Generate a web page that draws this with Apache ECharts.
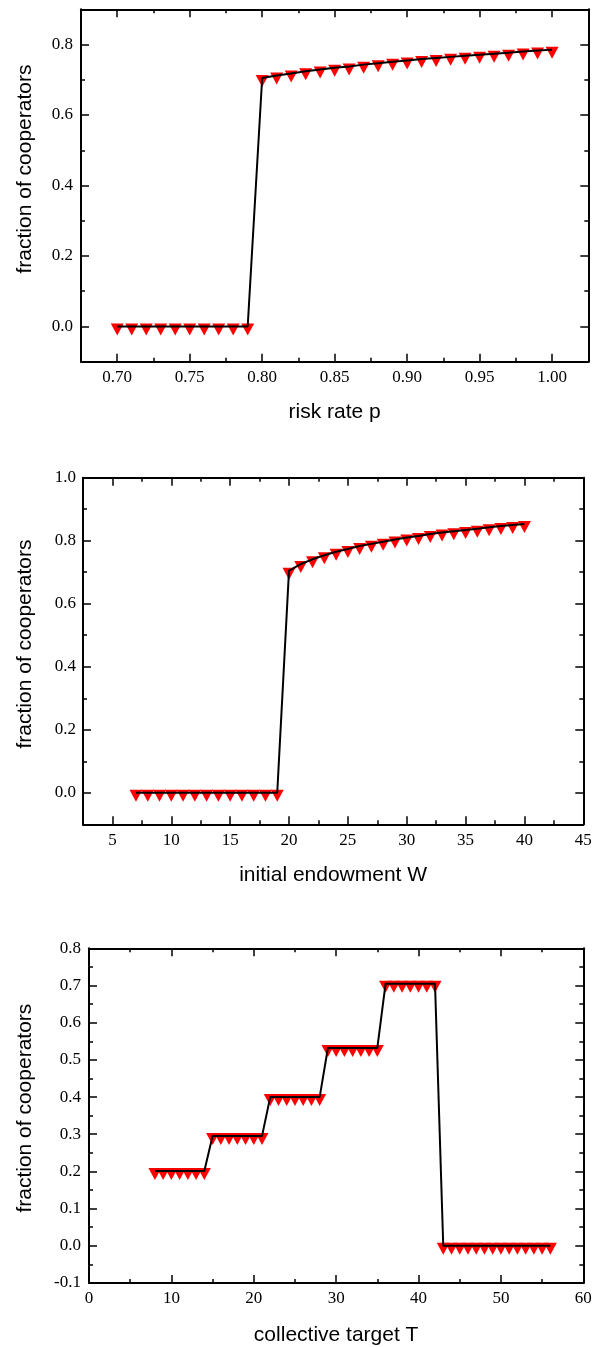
<!DOCTYPE html>
<html><head><meta charset="utf-8">
<script src="https://cdn.jsdelivr.net/npm/echarts@6/dist/echarts.min.js"></script>
<style>html,body{margin:0;padding:0;background:#fff}#c{width:599px;height:1347px}</style>
</head><body><div id="c"></div>
<script>
// ---------- Panel 1: risk rate p ----------
const riskX = [0.70,0.71,0.72,0.73,0.74,0.75,0.76,0.77,0.78,0.79,0.80,0.81,0.82,0.83,0.84,0.85,0.86,0.87,0.88,0.89,0.90,0.91,0.92,0.93,0.94,0.95,0.96,0.97,0.98,0.99,1.00];
const riskY = [0,0,0,0,0,0,0,0,0,0,0.705,0.712,0.718,0.724,0.729,0.734,0.738,0.743,0.747,0.751,0.755,0.759,0.762,0.765,0.768,0.771,0.774,0.777,0.780,0.783,0.785];
const riskXMajor = [0.70,0.75,0.80,0.85,0.90,0.95,1.00];
const riskXLabels = ['0.70','0.75','0.80','0.85','0.90','0.95','1.00'];
const riskXMinor = [0.725,0.775,0.825,0.875,0.925,0.975];
const riskYMajor = [0,0.2,0.4,0.6,0.8];
const riskYLabels = ['0.0','0.2','0.4','0.6','0.8'];
const riskYMinor = [0.1,0.3,0.5,0.7];

// ---------- Panel 2: initial endowment W ----------
const endowX = [7,8,9,10,11,12,13,14,15,16,17,18,19,20,21,22,23,24,25,26,27,28,29,30,31,32,33,34,35,36,37,38,39,40];
const endowY = [0,0,0,0,0,0,0,0,0,0,0,0,0,0.705,0.726,0.741,0.754,0.765,0.774,0.783,0.790,0.797,0.804,0.810,0.815,0.821,0.826,0.830,0.834,0.838,0.843,0.847,0.850,0.853];
const endowXMajor = [5,10,15,20,25,30,35,40,45];
const endowXLabels = ['5','10','15','20','25','30','35','40','45'];
const endowXMinor = [7.5,12.5,17.5,22.5,27.5,32.5,37.5,42.5];
const endowYMajor = [0,0.2,0.4,0.6,0.8,1.0];
const endowYLabels = ['0.0','0.2','0.4','0.6','0.8','1.0'];
const endowYMinor = [0.1,0.3,0.5,0.7,0.9];

// ---------- Panel 3: collective target T ----------
const targetX = [8,9,10,11,12,13,14,15,16,17,18,19,20,21,22,23,24,25,26,27,28,29,30,31,32,33,34,35,36,37,38,39,40,41,42,43,44,45,46,47,48,49,50,51,52,53,54,55,56];
const targetY = [0.201,0.201,0.201,0.201,0.201,0.201,0.201,
                 0.295,0.295,0.295,0.295,0.295,0.295,0.295,
                 0.400,0.400,0.400,0.400,0.400,0.400,0.400,
                 0.532,0.532,0.532,0.532,0.532,0.532,0.532,
                 0.705,0.705,0.705,0.705,0.705,0.705,0.705,
                 0,0,0,0,0,0,0,0,0,0,0,0,0,0];
const targetXMajor = [0,10,20,30,40,50,60];
const targetXLabels = ['0','10','20','30','40','50','60'];
const targetXMinor = [5,15,25,35,45,55];
const targetYMajor = [-0.1,0,0.1,0.2,0.3,0.4,0.5,0.6,0.7,0.8];
const targetYLabels = ['-0.1','0.0','0.1','0.2','0.3','0.4','0.5','0.6','0.7','0.8'];
const targetYMinor = [-0.05,0.05,0.15,0.25,0.35,0.45,0.55,0.65,0.75];

const SERIF = 'Liberation Serif';
const SANS = 'Liberation Sans';

function labelFmt(major, labels) {
  return function (v) {
    let best = 0;
    for (let i = 1; i < major.length; i++) {
      if (Math.abs(major[i] - v) < Math.abs(major[best] - v)) best = i;
    }
    return labels[best];
  };
}

function makeAxes(dim, g, min, max, major, labels, minor, name, nameGap, labelMargin, namePad) {
  const mainPos = dim === 'x' ? 'bottom' : 'left';
  const oppPos = dim === 'x' ? 'top' : 'right';
  const base = {type: 'value', gridIndex: g, min: min, max: max, splitLine: {show: false}, minorTick: {show: false}};
  const lineOn = {show: true, onZero: false, lineStyle: {color: '#000', width: 2}};
  const lineOff = {show: false, onZero: false};
  const tick = (vals, len) => ({show: true, inside: true, length: len, customValues: vals, lineStyle: {color: '#000', width: 1.5}});
  const main = Object.assign({}, base, {
    position: mainPos,
    axisLine: lineOn,
    axisTick: tick(major, 8),
    axisLabel: {show: true, customValues: major, formatter: labelFmt(major, labels), margin: labelMargin,
                color: '#000', fontFamily: SERIF, fontSize: 17},
    name: name, nameLocation: 'middle', nameGap: nameGap,
    nameTextStyle: {color: '#000', fontFamily: SANS, fontSize: 21, padding: namePad || 0}
  });
  const mainMinor = Object.assign({}, base, {position: mainPos, axisLine: lineOff, axisTick: tick(minor, 4), axisLabel: {show: false}});
  const opp = Object.assign({}, base, {position: oppPos, axisLine: lineOn, axisTick: tick(major, 8), axisLabel: {show: false}});
  const oppMinor = Object.assign({}, base, {position: oppPos, axisLine: lineOff, axisTick: tick(minor, 4), axisLabel: {show: false}});
  return [main, mainMinor, opp, oppMinor];
}

const grids = [
  {left: 81, top: 9.3, width: 507.3, height: 352.4},
  {left: 83, top: 477.7, width: 500.3, height: 346.6},
  {left: 89, top: 948.3, width: 494.3, height: 342}
];

const xAxes = [].concat(
  makeAxes('x', 0, 0.675, 1.025, riskXMajor, riskXLabels, riskXMinor, 'risk rate p', 40, 7),
  makeAxes('x', 1, 2.5, 45, endowXMajor, endowXLabels, endowXMinor, 'initial endowment W', 40, 8),
  makeAxes('x', 2, 0, 60, targetXMajor, targetXLabels, targetXMinor, 'collective target T', 42, 7)
);
const yAxes = [].concat(
  makeAxes('y', 0, -0.1, 0.9, riskYMajor, riskYLabels, riskYMinor, 'fraction of cooperators', 45, 8, [0, 0, 0, 33]),
  makeAxes('y', 1, -0.1, 1.0, endowYMajor, endowYLabels, endowYMinor, 'fraction of cooperators', 47, 7, [0, 0, 0, 14]),
  makeAxes('y', 2, -0.1, 0.8, targetYMajor, targetYLabels, targetYMinor, 'fraction of cooperators', 53, 8, [0, 0, 0, 15])
);

function zip(xs, ys) { return xs.map((x, i) => [x, ys[i]]); }

const TRI = 'path://M0 0L13 0L6.5 12Z';
const panels = [[riskX, riskY], [endowX, endowY], [targetX, targetY]];
const series = [];
panels.forEach((p, i) => {
  const data = zip(p[0], p[1]);
  series.push({
    type: 'scatter', xAxisIndex: i * 4, yAxisIndex: i * 4, data: data,
    symbol: TRI, symbolSize: [13, 12], symbolOffset: [0, 3],
    itemStyle: {color: '#ff0000', opacity: 1}, z: 2, silent: true
  });
  series.push({
    type: 'line', xAxisIndex: i * 4, yAxisIndex: i * 4, data: data,
    showSymbol: false, symbol: 'none', lineStyle: {color: '#000', width: 2}, z: 3, silent: true
  });
});

const chart = echarts.init(document.getElementById('c'), null, {renderer: 'canvas'});
chart.setOption({
  animation: false,
  backgroundColor: '#fff',
  grid: grids,
  xAxis: xAxes,
  yAxis: yAxes,
  series: series
});
</script></body></html>
